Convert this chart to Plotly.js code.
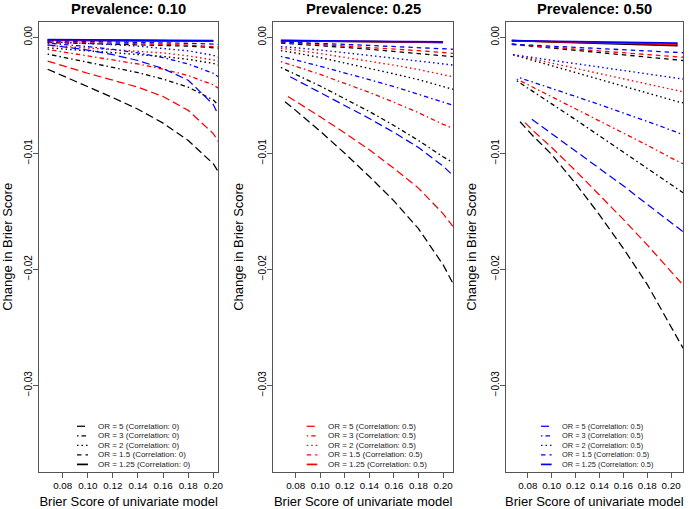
<!DOCTYPE html>
<html lang="en">
<head>
    <meta charset="UTF-8">
    <title>Change in Brier Score</title>
    <script src="https://cdn.plot.ly/plotly-3.0.1.min.js"></script>
    <style>
        body { margin: 0; background: white; }
    </style>
</head>
<body>
<div id="plot"></div>
<script>
    // Prevalence 0.10
    const x10 = [0.068, 0.08, 0.10, 0.12, 0.14, 0.16, 0.18, 0.20, 0.204]
    const p10_black_or5 = [-0.00275, -0.0033, -0.00425, -0.0052, -0.0062, -0.0074, -0.0089, -0.0109, -0.0116]
    const p10_black_or3 = [-0.00145, -0.0017, -0.00215, -0.0026, -0.00305, -0.0036, -0.0043, -0.0054, -0.00585]
    const p10_black_or2 = [-0.0009, -0.001, -0.00115, -0.0013, -0.00145, -0.00165, -0.0019, -0.00225, -0.0024]
    const p10_black_or15 = [-0.00045, -0.00048, -0.00052, -0.00057, -0.00062, -0.00068, -0.00076, -0.0009, -0.00095]
    const p10_black_or125 = [-0.00025, -0.00026, -0.00027, -0.00028, -0.00029, -0.0003, -0.00031, -0.00033, null]
    const p10_red_or5 = [-0.00205, -0.00245, -0.0031, -0.0037, -0.0043, -0.0051, -0.0063, -0.0083, -0.009]
    const p10_red_or3 = [-0.00105, -0.00125, -0.0016, -0.00195, -0.0023, -0.00275, -0.0033, -0.0041, -0.0044]
    const p10_red_or2 = [-0.0007, -0.00078, -0.0009, -0.00103, -0.00117, -0.00135, -0.0016, -0.00195, -0.0021]
    const p10_red_or15 = [-0.0004, -0.00042, -0.00046, -0.0005, -0.00054, -0.0006, -0.00067, -0.00077, -0.00082]
    const p10_red_or125 = [-0.00024, -0.00025, -0.00026, -0.00027, -0.00028, -0.00029, -0.0003, -0.00032, null]
    const p10_blue_or5 = [-0.00065, -0.0008, -0.0011, -0.0015, -0.002, -0.0027, -0.0037, -0.0058, -0.0067]
    const p10_blue_or3 = [-0.0005, -0.0006, -0.0008, -0.00105, -0.00135, -0.00175, -0.0023, -0.0031, -0.0034]
    const p10_blue_or2 = [-0.00038, -0.00043, -0.00052, -0.00063, -0.00076, -0.00094, -0.00117, -0.00155, -0.0017]
    const p10_blue_or15 = [-0.0003, -0.00032, -0.00035, -0.00038, -0.00042, -0.00046, -0.00052, -0.00058, -0.00062]
    const p10_blue_or125 = [-0.0002, -0.00021, -0.00022, -0.00023, -0.00024, -0.00025, -0.00026, -0.00028, null]

    // Prevalence 0.25
    const x25 = [0.068, 0.0713, 0.0737, 0.0755, 0.08, 0.10, 0.12, 0.14, 0.16, 0.18, 0.20, 0.208]
    const p25_black_or5 = [null, -0.00555, -0.00575, -0.0059, -0.0063, -0.0081, -0.01, -0.012, -0.0141, -0.0165, -0.0196, -0.0212]
    const p25_black_or3 = [-0.0026, -0.00275, -0.00287, -0.00296, -0.0032, -0.0042, -0.0053, -0.0064, -0.0076, -0.0089, -0.0103, -0.0108]
    const p25_black_or2 = [-0.00115, -0.0012, -0.00124, -0.00127, -0.00135, -0.00175, -0.0022, -0.00265, -0.00315, -0.00365, -0.0042, -0.00448]
    const p25_black_or15 = [-0.0005, -0.00052, -0.00053, -0.00054, -0.00057, -0.00072, -0.00087, -0.00103, -0.0012, -0.00138, -0.00158, -0.00167]
    const p25_black_or125 = [-0.0003, -0.0003, -0.00031, -0.00031, -0.00032, -0.00034, -0.00036, -0.00038, -0.0004, -0.00042, -0.00045, null]
    const p25_red_or5 = [null, null, -0.0051, -0.00522, -0.0055, -0.00685, -0.00825, -0.0097, -0.0113, -0.013, -0.0152, -0.0163]
    const p25_red_or3 = [-0.0021, -0.0022, -0.00228, -0.00234, -0.0025, -0.0032, -0.00395, -0.00475, -0.0056, -0.0065, -0.0075, -0.00785]
    const p25_red_or2 = [-0.00095, -0.00099, -0.00102, -0.00104, -0.0011, -0.0014, -0.00172, -0.00205, -0.0024, -0.00278, -0.0032, -0.0034]
    const p25_red_or15 = [-0.00045, -0.00046, -0.00047, -0.00048, -0.0005, -0.00062, -0.00074, -0.00087, -0.001, -0.00115, -0.00131, -0.00138]
    const p25_red_or125 = [-0.00028, -0.00028, -0.00029, -0.00029, -0.0003, -0.00032, -0.00034, -0.00036, -0.00038, -0.0004, -0.00043, null]
    const p25_blue_or5 = [null, null, null, -0.0034, -0.00365, -0.00475, -0.00585, -0.007, -0.0082, -0.0095, -0.0111, -0.0119]
    const p25_blue_or3 = [-0.00165, -0.00172, -0.00178, -0.00182, -0.00195, -0.0025, -0.00305, -0.00365, -0.00425, -0.0049, -0.0056, -0.00585]
    const p25_blue_or2 = [-0.0008, -0.00082, -0.00084, -0.00086, -0.0009, -0.0011, -0.00132, -0.00155, -0.0018, -0.00205, -0.0023, -0.00239]
    const p25_blue_or15 = [-0.0004, -0.00041, -0.00042, -0.00042, -0.00044, -0.00052, -0.00061, -0.0007, -0.00079, -0.00088, -0.00098, -0.00103]
    const p25_blue_or125 = [-0.00026, -0.00026, -0.00027, -0.00027, -0.00028, -0.0003, -0.00032, -0.00034, -0.00036, -0.00038, -0.0004, null]

    // Prevalence 0.50
    const x50 = [0.0666, 0.0677, 0.0708, 0.0735, 0.0777, 0.0834, 0.10, 0.12, 0.14, 0.16, 0.18, 0.20, 0.2055, 0.21]
    const p50_black_or5 = [null, null, null, -0.00728, -0.00775, -0.0084, -0.0101, -0.0126, -0.0153, -0.0182, -0.0213, -0.0249, -0.0259, -0.0268]
    const p50_black_or3 = [null, null, -0.00375, -0.00393, -0.00422, -0.00462, -0.00575, -0.0071, -0.0085, -0.0099, -0.0113, -0.0127, -0.0131, -0.0134]
    const p50_black_or2 = [null, -0.0015, -0.0016, -0.00168, -0.0018, -0.00197, -0.00245, -0.00305, -0.00365, -0.00425, -0.00485, -0.0054, -0.00555, -0.00564]
    const p50_black_or15 = [-0.0006, -0.00061, -0.00064, -0.00067, -0.00071, -0.00076, -0.00093, -0.00112, -0.00132, -0.00151, -0.00171, -0.0019, -0.00196, -0.002]
    const p50_black_or125 = [-0.00029, -0.00029, -0.0003, -0.00031, -0.00032, -0.00034, -0.00039, -0.00046, -0.00052, -0.00058, -0.00064, -0.0007, -0.00072, null]
    const p50_red_or5 = [null, null, null, null, -0.00736, -0.00795, -0.0095, -0.0115, -0.0136, -0.0157, -0.0179, -0.0202, -0.0209, -0.02135]
    const p50_red_or3 = [null, null, -0.0036, -0.00374, -0.00396, -0.00426, -0.0051, -0.00615, -0.0072, -0.00825, -0.0093, -0.0104, -0.0107, -0.0109]
    const p50_red_or2 = [null, -0.0015, -0.00157, -0.00163, -0.00172, -0.00185, -0.00222, -0.00267, -0.00312, -0.00357, -0.00402, -0.00448, -0.0046, -0.0047]
    const p50_red_or15 = [-0.0006, -0.00061, -0.00063, -0.00065, -0.00069, -0.00073, -0.00086, -0.00102, -0.00117, -0.00133, -0.00149, -0.00164, -0.00169, -0.00172]
    const p50_red_or125 = [-0.00029, -0.00029, -0.0003, -0.0003, -0.00031, -0.00033, -0.00037, -0.00041, -0.00046, -0.00051, -0.00056, -0.00061, -0.00062, null]
    const p50_blue_or5 = [null, null, null, null, null, -0.00707, -0.0083, -0.0098, -0.0113, -0.0128, -0.0144, -0.016, -0.01645, -0.01676]
    const p50_blue_or3 = [null, null, null, -0.0035, -0.00365, -0.00385, -0.0044, -0.0051, -0.0058, -0.0065, -0.00725, -0.008, -0.0082, -0.0084]
    const p50_blue_or2 = [null, -0.0015, -0.00155, -0.00159, -0.00165, -0.00173, -0.00198, -0.00227, -0.00257, -0.00286, -0.00316, -0.00345, -0.00354, -0.0036]
    const p50_blue_or15 = [-0.0006, -0.0006, -0.00062, -0.00063, -0.00066, -0.00068, -0.00077, -0.00087, -0.00097, -0.00107, -0.00117, -0.00127, -0.0013, -0.00133]
    const p50_blue_or125 = [-0.00029, -0.00029, -0.00029, -0.0003, -0.0003, -0.00031, -0.00034, -0.00037, -0.0004, -0.00043, -0.00046, -0.00049, -0.0005, null]

    const prevalences = ['0.10', '0.25', '0.50']
    const orLabels = ['5', '3', '2', '1.5', '1.25']
    const corrLabels = ['0', '0.5', '0.5']
    const xTicks = [0.08, 0.10, 0.12, 0.14, 0.16, 0.18, 0.20]
    const yTicks = [0, -0.01, -0.02, -0.03]
    const yTickText = ['0.00', '\u22120.01', '\u22120.02', '\u22120.03']

    const colors = ['#000000', '#ff0000', '#0000ff']
    const dashes = ['8px,4px', '1.5px,3px,4.5px,3px', '1.5px,3px', '4.5px,4px', 'solid']
    const widths = [1.25, 1.3, 1.4, 1.3, 1.7]

    const panels = [
        {x: x10, range: [0.0611, 0.2040], dom: [0.0565, 0.3164], legX: [0.212, 0.273, 0.323], legFont: 8,
            lines: [[p10_black_or5, p10_black_or3, p10_black_or2, p10_black_or15, p10_black_or125],
                [p10_red_or5, p10_red_or3, p10_red_or2, p10_red_or15, p10_red_or125],
                [p10_blue_or5, p10_blue_or3, p10_blue_or2, p10_blue_or15, p10_blue_or125]]},
        {x: x25, range: [0.0618, 0.2081], dom: [0.3961, 0.6565], legX: [0.186, 0.245, 0.300], legFont: 8,
            lines: [[p25_black_or5, p25_black_or3, p25_black_or2, p25_black_or15, p25_black_or125],
                [p25_red_or5, p25_red_or3, p25_red_or2, p25_red_or15, p25_red_or125],
                [p25_blue_or5, p25_blue_or3, p25_blue_or2, p25_blue_or15, p25_blue_or125]]},
        {x: x50, range: [0.0615, 0.2100], dom: [0.7329, 0.9899], legX: [0.199, 0.259, 0.310], legFont: 7.4,
            lines: [[p50_black_or5, p50_black_or3, p50_black_or2, p50_black_or15, p50_black_or125],
                [p50_red_or5, p50_red_or3, p50_red_or2, p50_red_or15, p50_red_or125],
                [p50_blue_or5, p50_blue_or3, p50_blue_or2, p50_blue_or15, p50_blue_or125]]}
    ]

    const font = 'Liberation Sans, Arial, Helvetica, sans-serif'
    const data = []
    const shapes = []
    const annotations = []
    const layout = {
        width: 690, height: 509,
        margin: {l: 0, r: 0, t: 0, b: 0},
        paper_bgcolor: 'white', plot_bgcolor: 'white',
        showlegend: false,
        font: {family: font, color: '#000'}
    }

    panels.forEach((p, i) => {
        const n = i === 0 ? '' : String(i + 1)
        p.lines.forEach((group, c) => {
            group.forEach((ys, k) => {
                data.push({
                    x: p.x, y: ys,
                    xaxis: 'x' + n, yaxis: 'y' + n,
                    type: 'scatter', mode: 'lines',
                    line: {color: colors[c], width: widths[k], dash: dashes[k]},
                    name: 'OR = ' + orLabels[k] + ' (Correlation: ' + corrLabels[c] + ')',
                    hoverinfo: 'x+y+name'
                })
            })
        })

        layout['xaxis' + n] = {
            domain: p.dom, range: p.range, anchor: 'y' + n,
            tickvals: xTicks, ticktext: xTicks.map(v => v.toFixed(2)),
            ticks: 'outside', ticklen: 5, tickcolor: '#555', tickwidth: 1,
            showline: true, mirror: true, linecolor: '#555', linewidth: 1,
            showgrid: false, zeroline: false,
            tickfont: {size: 9.8, family: font},
            title: {text: 'Brier Score of univariate model', font: {size: 13, family: font}, standoff: 9}
        }
        layout['yaxis' + n] = {
            domain: [0.0733, 0.9568], range: [-0.03745, 0.00132], anchor: 'x' + n,
            tickvals: yTicks, ticktext: yTickText, tickangle: -90,
            ticks: 'outside', ticklen: 5, tickcolor: '#555', tickwidth: 1,
            ticklabelstandoff: -3,
            showline: true, mirror: true, linecolor: '#555', linewidth: 1,
            showgrid: false, zeroline: false,
            tickfont: {size: 10, family: font},
            title: {text: 'Change in Brier Score', font: {size: 13, family: font}, standoff: 10}
        }

        annotations.push({
            text: 'Prevalence: ' + prevalences[i],
            xref: 'x' + n + ' domain', x: 0.5, xanchor: 'center',
            yref: 'paper', y: 1 - 9 / 509, yanchor: 'middle',
            showarrow: false, font: {size: 14.7, family: font, weight: 'bold'}
        })

        // legend drawn like R's legend(bty = "n")
        orLabels.forEach((lab, k) => {
            const yy = 0.101 - k * 0.0212
            shapes.push({
                type: 'line', xref: 'x' + n + ' domain', yref: 'y' + n + ' domain',
                x0: p.legX[0], x1: p.legX[1], y0: yy, y1: yy,
                line: {color: colors[i], width: widths[k], dash: dashes[k]}
            })
            annotations.push({
                text: 'OR = ' + lab + ' (Correlation: ' + corrLabels[i] + ')',
                xref: 'x' + n + ' domain', x: p.legX[2], xanchor: 'left',
                yref: 'y' + n + ' domain', y: yy, yanchor: 'middle',
                borderpad: 0,
                showarrow: false, font: {size: p.legFont, family: font, color: '#222'}
            })
        })
    })

    layout.shapes = shapes
    layout.annotations = annotations

    Plotly.newPlot('plot', data, layout, {displayModeBar: false, staticPlot: true})
</script>
</body>
</html>
